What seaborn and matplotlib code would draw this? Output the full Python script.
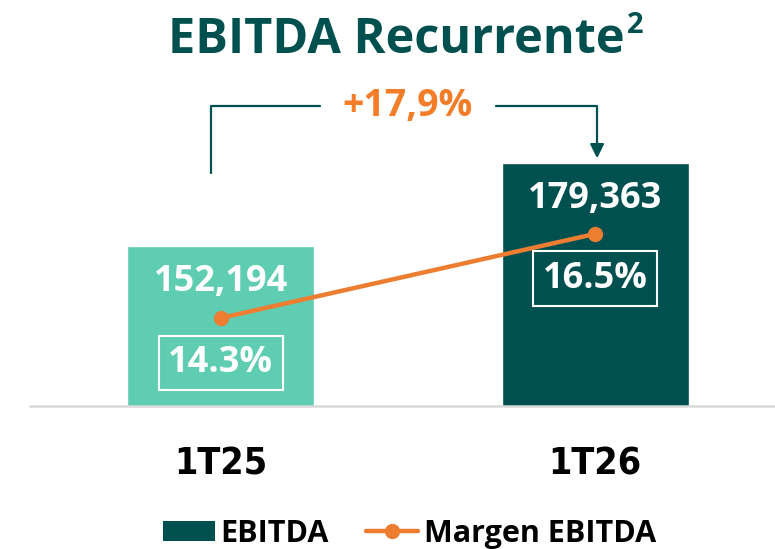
import matplotlib
matplotlib.use("Agg")
import matplotlib.pyplot as plt
import seaborn as sns
from matplotlib.patches import Patch
from matplotlib.lines import Line2D

categories = ["1T25", "1T26"]
ebitda = [152194, 179363]
margins = [14.3, 16.5]
growth_label = "+17,9%"
title = "EBITDA Recurrente"
title_sup = "2"
legend_labels = ["EBITDA", "Margen EBITDA"]

LIGHT = "#5ECDB1"
DARK = "#00504F"
ORANGE = "#ED7D31"
ORANGE_TXT = "#F47D2A"
GRAY = "#D9D9D9"

sns.set_theme(style="white")
plt.rcParams["font.family"] = ["Open Sans", "DejaVu Sans"]

fig = plt.figure(figsize=(7.75, 5.49), dpi=100)
ax = fig.add_axes([30 / 775, 143 / 549, 745 / 775, 306 / 549])

sns.barplot(x=categories, y=ebitda, hue=categories, palette=[LIGHT, DARK],
            legend=False, width=0.5, saturation=1, ax=ax)
ax.set_ylim(100000, 200000)
ax.set_xlim(-0.509, 1.48)
for s in ["top", "right", "left"]:
    ax.spines[s].set_visible(False)
ax.spines["bottom"].set_color(GRAY)
ax.spines["bottom"].set_linewidth(1.8)
ax.set_yticks([])
ax.set_ylabel("")
ax.tick_params(axis="x", length=0, pad=29)
for lab in ax.get_xticklabels():
    lab.set_fontfamily(["DejaVu Sans"])
    lab.set_fontstretch("condensed")
    lab.set_fontweight("bold")
    lab.set_fontsize(27)
    lab.set_color("black")

# bar value labels
for i, v in enumerate(ebitda):
    ax.annotate(f"{v:,}", xy=(i, v), xytext=(0, -36), textcoords="offset pixels",
                ha="center", va="center", color="white", fontsize=26,
                fontweight="bold")

# margin line on secondary axis
ax2 = ax.twinx()
sns.lineplot(x=categories, y=margins, ax=ax2, color=ORANGE, lw=3.2,
             marker="o", markersize=11, markeredgewidth=0)
ax2.set_ylim(12, 20)
ax2.set_yticks([])
ax2.set_ylabel("")
for s in ax2.spines.values():
    s.set_visible(False)
for i, m in enumerate(margins):
    ax2.annotate(f"{m:.1f}%", xy=(i, m), xytext=(0, -45), textcoords="offset pixels",
                 ha="center", va="center", color="white", fontsize=26,
                 fontweight="bold",
                 bbox=dict(boxstyle="square,pad=0.26", fc="none", ec="white", lw=1.5))

# growth bracket
xl, xr = -0.025, 1.005
ytop = 198000
ylow = 176200
ytip = ebitda[1] + 1600
ax.add_line(Line2D([xl, xl, 0.265], [ylow, ytop, ytop], color=DARK, lw=1.6,
                   clip_on=False))
ax.add_line(Line2D([0.735, xr, xr], [ytop, ytop, ytip + 5000], color=DARK, lw=1.6,
                   clip_on=False))
ax.annotate("", xy=(xr, ytip), xytext=(xr, ytip + 5200),
            arrowprops=dict(arrowstyle="-|>,head_length=0.7,head_width=0.35",
                            color=DARK, lw=1.6, shrinkA=0, shrinkB=0))
ax.text(0.5, ytop, growth_label, ha="center", va="center", color=ORANGE_TXT,
        fontsize=27, fontweight="bold")

t = fig.text(396 / 775, 1 - 53 / 549, title, ha="center", va="baseline", color=DARK,
             fontsize=35, fontweight="bold")
plt.annotate(title_sup, xy=(1.0, 1.0), xycoords=t, xytext=(3, 5),
             textcoords="offset pixels", ha="left", va="top", color=DARK,
             fontsize=21, fontweight="bold", annotation_clip=False)

handles = [Patch(facecolor=DARK, edgecolor="none"),
           Line2D([], [], color=ORANGE, lw=3.2, marker="o", markersize=11,
                  markeredgewidth=0)]
fig.legend(handles, legend_labels, loc="center", bbox_to_anchor=(0.528, 0.028),
           ncol=2, frameon=False, prop=dict(family="Open Sans", weight="bold", size=22),
           labelcolor="black",
           handlelength=1.7, handleheight=0.6, handletextpad=0.2, columnspacing=1.2)

fig.savefig("out.png", dpi=100)
